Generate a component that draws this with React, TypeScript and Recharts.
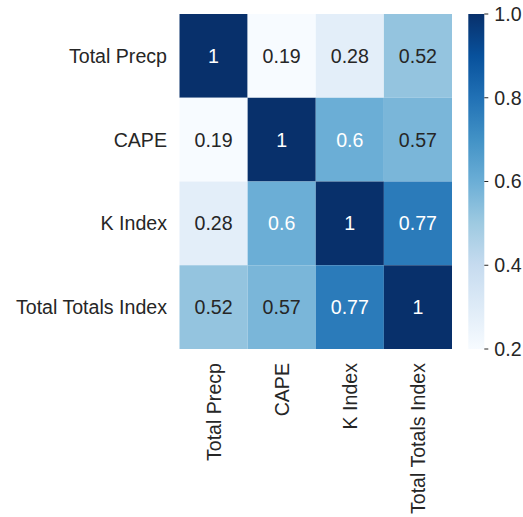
import React from "react";
import {
  ScatterChart,
  Scatter,
  XAxis,
  YAxis,
  BarChart,
  Bar,
} from "recharts";

const labels = ["Total Precp", "CAPE", "K Index", "Total Totals Index"];

const rowTotalPrecp = [1, 0.19, 0.28, 0.52];
const rowCape = [0.19, 1, 0.6, 0.57];
const rowKIndex = [0.28, 0.6, 1, 0.77];
const rowTotalTotals = [0.52, 0.57, 0.77, 1];
const matrix = [rowTotalPrecp, rowCape, rowKIndex, rowTotalTotals];

const colorbarTicks = [0.2, 0.4, 0.6, 0.8, 1.0];
const VMIN = 0.2;
const VMAX = 1.0;

// matplotlib "Blues"
const BLUES = [
  "#f7fbff", "#deebf7", "#c6dbef", "#9ecae1", "#6baed6",
  "#4292c6", "#2171b5", "#08519c", "#08306b",
];

const FONT = "'Liberation Sans', Arial, sans-serif";
const FONT_SIZE = 19.6;
const TEXT = "#262626";

const W = 523;
const H = 517;
const PLOT_LEFT = 179.5;
const PLOT_TOP = 14;
const PLOT_RIGHT = 452;
const PLOT_BOTTOM = 349;
const CELL_W = (PLOT_RIGHT - PLOT_LEFT) / labels.length;
const CELL_H = (PLOT_BOTTOM - PLOT_TOP) / labels.length;

const hexToRgb = (h: string) => [
  parseInt(h.slice(1, 3), 16),
  parseInt(h.slice(3, 5), 16),
  parseInt(h.slice(5, 7), 16),
];

function blues(v: number) {
  let t = (v - VMIN) / (VMAX - VMIN);
  t = Math.max(0, Math.min(1, t));
  const pos = t * (BLUES.length - 1);
  const i = Math.min(BLUES.length - 2, Math.floor(pos));
  const f = pos - i;
  const a = hexToRgb(BLUES[i]);
  const b = hexToRgb(BLUES[i + 1]);
  const c = a.map((x, k) => Math.round(x + (b[k] - x) * f));
  return { css: `rgb(${c[0]},${c[1]},${c[2]})`, rgb: c };
}

function luminance(rgb: number[]) {
  const ch = rgb.map((x) => {
    const s = x / 255;
    return s <= 0.03928 ? s / 12.92 : Math.pow((s + 0.055) / 1.055, 2.4);
  });
  return 0.2126 * ch[0] + 0.7152 * ch[1] + 0.0722 * ch[2];
}

const cells = matrix.flatMap((row, r) =>
  row.map((v, c) => ({ x: c + 0.5, y: r + 0.5, v }))
);

const CellShape = (props: any) => {
  const { cx, cy, payload } = props;
  const col = blues(payload.v);
  const light = luminance(col.rgb) < 0.408;
  return (
    <g>
      <rect
        x={cx - CELL_W / 2}
        y={cy - CELL_H / 2}
        width={CELL_W}
        height={CELL_H}
        fill={col.css}
      />
      <text
        x={cx}
        y={cy}
        textAnchor="middle"
        dominantBaseline="central"
        fontFamily={FONT}
        fontSize={FONT_SIZE}
        fill={light ? "#ffffff" : TEXT}
      >
        {String(payload.v)}
      </text>
    </g>
  );
};

const YTick = (props: any) => {
  const { x, y, payload } = props;
  return (
    <text
      x={x}
      y={y}
      textAnchor="end"
      dominantBaseline="central"
      fontFamily={FONT}
      fontSize={FONT_SIZE}
      fill={TEXT}
    >
      {labels[Math.floor(payload.value)]}
    </text>
  );
};

const XTick = (props: any) => {
  const { x, y, payload } = props;
  return (
    <text
      x={x}
      y={y}
      transform={`rotate(-90, ${x}, ${y})`}
      textAnchor="end"
      dominantBaseline="central"
      fontFamily={FONT}
      fontSize={FONT_SIZE}
      fill={TEXT}
    >
      {labels[Math.floor(payload.value)]}
    </text>
  );
};

const colorbarData = [{ name: "cb", range: [VMIN, VMAX] }];

export default function App() {
  return (
    <div
      style={{
        position: "absolute",
        left: 0,
        top: 0,
        width: W,
        height: H,
        background: "#ffffff",
      }}
    >
      <div style={{ position: "absolute", left: 0, top: 0 }}>
        <ScatterChart
          width={PLOT_RIGHT}
          height={H}
          margin={{ top: PLOT_TOP, right: 0, bottom: 0, left: 0 }}
        >
          <XAxis
            type="number"
            dataKey="x"
            domain={[0, 4]}
            ticks={[0.5, 1.5, 2.5, 3.5]}
            height={H - PLOT_BOTTOM}
            axisLine={false}
            tickLine={false}
            tickSize={0}
            tickMargin={14}
            tick={<XTick />}
            interval={0}
          />
          <YAxis
            type="number"
            dataKey="y"
            domain={[0, 4]}
            reversed
            ticks={[0.5, 1.5, 2.5, 3.5]}
            width={PLOT_LEFT}
            axisLine={false}
            tickLine={false}
            tickSize={0}
            tickMargin={12.5}
            tick={<YTick />}
            interval={0}
          />
          <Scatter data={cells} shape={<CellShape />} isAnimationActive={false} />
        </ScatterChart>
      </div>
      <div style={{ position: "absolute", left: 460, top: 0 }}>
        <BarChart
          width={W - 460}
          height={H}
          data={colorbarData}
          margin={{ top: PLOT_TOP, right: 0, bottom: H - PLOT_BOTTOM, left: 8.3 }}
          barCategoryGap="0%"
        >
          <defs>
            <linearGradient id="bluesGrad" x1="0" y1="1" x2="0" y2="0">
              {BLUES.map((c, i) => (
                <stop key={c} offset={`${(i / (BLUES.length - 1)) * 100}%`} stopColor={c} />
              ))}
            </linearGradient>
          </defs>
          <XAxis dataKey="name" hide />
          <YAxis
            orientation="right"
            domain={[VMIN, VMAX]}
            ticks={colorbarTicks}
            tickFormatter={(v: number) => v.toFixed(1)}
            width={W - 460 - 8.3 - 16}
            axisLine={false}
            tickLine={{ stroke: TEXT, strokeWidth: 1 }}
            tickSize={4}
            tickMargin={6}
            tick={{ fontFamily: FONT, fontSize: FONT_SIZE, fill: TEXT }}
            interval={0}
            allowDataOverflow
          />
          <Bar dataKey="range" fill="url(#bluesGrad)" isAnimationActive={false} />
        </BarChart>
      </div>
    </div>
  );
}
